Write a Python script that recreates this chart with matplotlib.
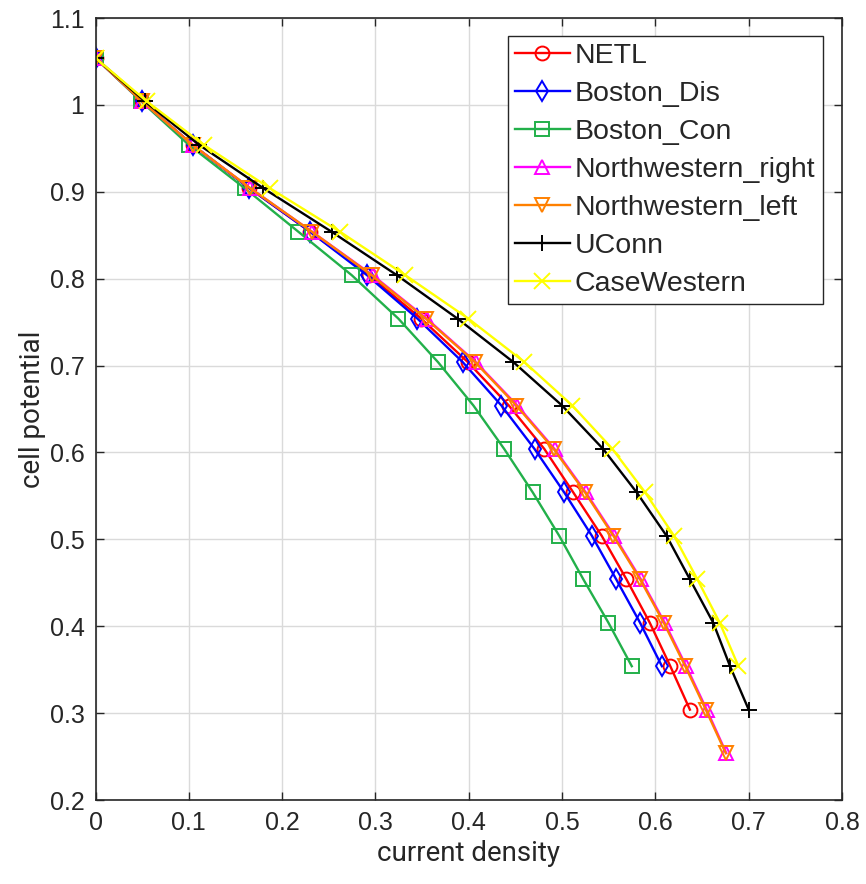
import matplotlib
matplotlib.use("Agg")
import matplotlib.pyplot as plt
from matplotlib import font_manager

potential = [1.054, 1.004, 0.954, 0.904, 0.854, 0.804, 0.754, 0.704, 0.654,
             0.604, 0.554, 0.504, 0.454, 0.404, 0.354, 0.304, 0.254]

netl = [0.0, 0.050, 0.104, 0.165, 0.230, 0.293, 0.349, 0.399, 0.443, 0.481,
        0.512, 0.5425, 0.569, 0.594, 0.616, 0.637]
boston_dis = [0.0, 0.050, 0.104, 0.165, 0.230, 0.291, 0.345, 0.3935, 0.435,
              0.4705, 0.5023, 0.532, 0.558, 0.5836, 0.607]
boston_con = [0.0, 0.049, 0.100, 0.160, 0.2174, 0.2746, 0.3246, 0.367, 0.405,
              0.438, 0.4686, 0.497, 0.5228, 0.5497, 0.5747]
nw_right = [0.0, 0.050, 0.104, 0.166, 0.232, 0.297, 0.355, 0.4075, 0.452,
            0.492, 0.5255, 0.556, 0.5845, 0.610, 0.633, 0.655, 0.676]
nw_left = [0.0, 0.050, 0.104, 0.166, 0.232, 0.296, 0.354, 0.4067, 0.451,
           0.491, 0.5246, 0.555, 0.5836, 0.609, 0.632, 0.654, 0.6754]
uconn = [0.0, 0.053, 0.111, 0.180, 0.253, 0.323, 0.388, 0.4478, 0.500, 0.544,
         0.580, 0.612, 0.637, 0.662, 0.680, 0.700]
casewestern = [0.0, 0.055, 0.116, 0.187, 0.262, 0.332, 0.3996, 0.4596, 0.511,
               0.554, 0.589, 0.620, 0.645, 0.669, 0.689]

labels = ["NETL", "Boston_Dis", "Boston_Con", "Northwestern_right",
          "Northwestern_left", "UConn", "CaseWestern"]
series = [netl, boston_dis, boston_con, nw_right, nw_left, uconn, casewestern]
colors = ["#FF0000", "#0000FF", "#22B04A", "#FF00FF", "#FF8000", "#000000", "#FFFF00"]
markers = ["o", "d", "s", "^", "v", "+", "x"]

xticks = [0, 0.1, 0.2, 0.3, 0.4, 0.5, 0.6, 0.7, 0.8]
xticklabels = ["0", "0.1", "0.2", "0.3", "0.4", "0.5", "0.6", "0.7", "0.8"]
yticks = [0.2, 0.3, 0.4, 0.5, 0.6, 0.7, 0.8, 0.9, 1.0, 1.1]
yticklabels = ["0.2", "0.3", "0.4", "0.5", "0.6", "0.7", "0.8", "0.9", "1", "1.1"]

avail = {f.name for f in font_manager.fontManager.ttflist}
narrow = "Liberation Sans Narrow" if "Liberation Sans Narrow" in avail else "Roboto"
plt.rcParams['font.family'] = ['Liberation Sans', 'DejaVu Sans']

fig = plt.figure(figsize=(8.66, 8.84), dpi=100)
ax = fig.add_axes([95.5 / 866, 1 - 800 / 884, (842 - 95.5) / 866, (800 - 18) / 884])

for ys, lab, c, m in zip(series, labels, colors, markers):
    n = len(ys)
    ms = 11 if m in ("+", "x") else 10
    ax.plot(ys, potential[:n], color=c, marker=m, markersize=ms,
            markerfacecolor="none", markeredgecolor=c, markeredgewidth=1.4,
            linewidth=1.7, label=lab)

ax.set_xlim(0, 0.8)
ax.set_ylim(0.2, 1.1)
ax.set_xticks(xticks)
ax.set_xticklabels(xticklabels)
ax.set_yticks(yticks)
ax.set_yticklabels(yticklabels)
ax.tick_params(direction="in", length=6, width=1, top=True, right=True,
               labelsize=18, colors="#262626")
ax.tick_params(axis="x", pad=8)
ax.tick_params(axis="y", pad=8)
ax.grid(True, color="#DADADA", linewidth=1)
for sp in ax.spines.values():
    sp.set_color("#262626")
    sp.set_linewidth(1.2)

ax.set_xlabel("current density", fontsize=20, family=[narrow, 'DejaVu Sans'],
              color="#262626")
ax.set_ylabel("cell potential", fontsize=20, family=[narrow, 'DejaVu Sans'],
              color="#262626")
ax.xaxis.set_label_coords(0.5, -0.0512)
ax.yaxis.set_label_coords(-0.066, 0.5)

leg = ax.legend(loc="upper right", fontsize=20.5, frameon=True, fancybox=False,
                handlelength=1.93, handletextpad=0.18, labelspacing=0.42,
                borderpad=0.25, borderaxespad=0.0)
leg.set_bbox_to_anchor((822.7 / 866, 1 - 35.7 / 884), transform=fig.transFigure)
leg.get_frame().set_edgecolor("#262626")
leg.get_frame().set_linewidth(1.0)
leg.get_frame().set_alpha(1)
for t in leg.get_texts():
    t.set_color("#262626")

fig.savefig("out.png", dpi=100)
